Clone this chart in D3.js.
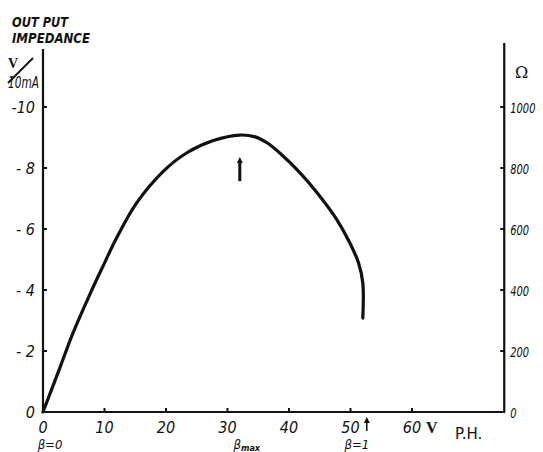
<!DOCTYPE html>
<html>
<head>
<meta charset="utf-8">
<script src="https://cdn.jsdelivr.net/npm/d3@7/dist/d3.min.js"></script>
<style>
  body { margin: 0; background: #fff; }
  svg { display: block; }
  text { fill: #111; }
</style>
</head>
<body>
<div class="chart"></div>
<script>
'use strict';

// plate voltage (V) and output impedance (V/10mA)
const voltage = [0, 2.8, 4.9, 7.6, 9.8, 12.0, 15.2, 19.6, 23.4, 27.7, 32.0, 34.5, 36.5, 38.5, 41.8, 44.6, 47.8, 49.9, 51.3, 52.0, 52.0];
const impedance = [0, 1.48, 2.6, 3.85, 4.8, 5.72, 6.85, 7.9, 8.5, 8.9, 9.08, 9.02, 8.82, 8.49, 7.84, 7.18, 6.3, 5.54, 4.89, 4.23, 3.08];

const xTicks = [0, 10, 20, 30, 40, 50, 60];
const leftTicks = [0, 2, 4, 6, 8, 10];
const leftLabels = ['0', '- 2', '- 4', '- 6', '- 8', '-10'];
const rightTicks = [0, 200, 400, 600, 800, 1000];

// beta markers: [voltage, label]
const betaMarks = [[0, 'β=0'], [32, 'βmax'], [52, 'β=1']];

const W = 543;
const H = 452;
const HAND = "'DejaVu Sans Condensed', 'DejaVu Sans', sans-serif";

const x = d3.scaleLinear().domain([0, 60]).range([43, 412]);
const y = d3.scaleLinear().domain([0, 10]).range([412, 107]);
const yR = d3.scaleLinear().domain([0, 1000]).range([412, 107]);

const svg = d3.select('.chart')
  .append('svg')
    .attr('width', W)
    .attr('height', H);

// italic hand-lettered style text helper
function label(xp, yp, size, str, anchor) {
  return svg.append('text')
    .attr('x', xp)
    .attr('y', yp)
    .attr('text-anchor', anchor || 'start')
    .style('font-family', HAND)
    .style('font-style', 'italic')
    .style('font-size', size + 'px')
    .text(str);
}

const x0 = x(0);
const xR = x(75);
const y0 = y(0);

// axes frame
svg.append('path')
  .attr('d', `M${x0},${y(11.9)}V${y0}H${xR}V${y(12.1)}`)
  .attr('fill', 'none')
  .attr('stroke', '#111')
  .attr('stroke-width', 2.2);

// left ticks + labels
svg.selectAll('.ltick')
  .data(leftTicks.slice(1))
  .enter()
  .append('line')
    .attr('x1', x0).attr('x2', x0 + 4)
    .attr('y1', (d) => y(d)).attr('y2', (d) => y(d))
    .attr('stroke', '#111').attr('stroke-width', 2);

leftTicks.forEach((d, i) => label(35, y(d) + 6, 16, leftLabels[i], 'end'));

// right ticks + labels
svg.selectAll('.rtick')
  .data(rightTicks.slice(1))
  .enter()
  .append('line')
    .attr('x1', xR - 4).attr('x2', xR)
    .attr('y1', (d) => yR(d)).attr('y2', (d) => yR(d))
    .attr('stroke', '#111').attr('stroke-width', 2);

rightTicks.forEach((d) => label(xR + 6, yR(d) + 6, 14, d)
  .attr('textLength', String(d).length * 6.3)
  .attr('lengthAdjust', 'spacingAndGlyphs'));

svg.append('text')
  .attr('x', 515).attr('y', 78)
  .style('font-family', "'DejaVu Serif', serif")
  .style('font-size', '16px')
  .text('Ω');

// bottom ticks + labels
svg.selectAll('.xtick')
  .data(xTicks.slice(1))
  .enter()
  .append('line')
    .attr('x1', (d) => x(d)).attr('x2', (d) => x(d))
    .attr('y1', y0 - 4).attr('y2', y0)
    .attr('stroke', '#111').attr('stroke-width', 2);

xTicks.forEach((d) => label(x(d), 433, 16, d, 'middle'));

svg.append('text')
  .attr('x', 426).attr('y', 433)
  .style('font-family', "'Liberation Serif', serif")
  .style('font-weight', 'bold')
  .style('font-size', '16px')
  .text('V');

svg.append('text')
  .attr('x', 455).attr('y', 439)
  .style('font-family', "'DejaVu Sans', sans-serif")
  .style('font-size', '15px')
  .text('P.H.');

// beta labels under the axis
betaMarks.forEach(([v, str]) => {
  const dx = v === 0 ? 7 : v === 32 ? 7 : -6;
  if (str === 'βmax') {
    const t = label(x(v) + dx, 449, 13, '', 'middle');
    t.append('tspan').text('β');
    t.append('tspan').style('font-size', '9px').style('font-weight', 'bold').attr('dy', 2).text('max');
  } else {
    label(x(v) + dx, 449, 13, str, 'middle');
  }
});

// arrows: one at beta=1 under the axis, one at the peak
function arrow(xp, yBottom, yTop, w) {
  svg.append('line')
    .attr('x1', xp).attr('x2', xp)
    .attr('y1', yBottom).attr('y2', yTop + 4)
    .attr('stroke', '#111').attr('stroke-width', w);
  svg.append('path')
    .attr('d', `M${xp - 3},${yTop + 6}L${xp},${yTop}L${xp + 3},${yTop + 6}Z`)
    .attr('fill', '#111');
}
arrow(x(52) + 4, 431, 417, 1.5);
arrow(x(32), y(7.57), y(8.36), 3);

// title
label(12, 27, 14, 'OUT PUT').style('font-weight', 'bold')
  .attr('textLength', 56).attr('lengthAdjust', 'spacingAndGlyphs');
label(12, 43, 14, 'IMPEDANCE').style('font-weight', 'bold')
  .attr('textLength', 78).attr('lengthAdjust', 'spacingAndGlyphs');

// unit V / 10mA
svg.append('text')
  .attr('x', 8).attr('y', 68)
  .style('font-family', "'Liberation Serif', serif")
  .style('font-weight', 'bold')
  .style('font-size', '14px')
  .text('V');
svg.append('line')
  .attr('x1', 8).attr('y1', 83).attr('x2', 33).attr('y2', 58)
  .attr('stroke', '#111').attr('stroke-width', 2);
label(8, 88, 15, '10mA')
  .attr('textLength', 31).attr('lengthAdjust', 'spacingAndGlyphs');

// impedance curve
const pts = voltage.map((v, i) => [v, impedance[i]]);
const line = d3.line()
  .x((d) => x(d[0]))
  .y((d) => y(d[1]))
  .curve(d3.curveCatmullRom.alpha(0.5));

svg.append('path')
  .datum(pts)
  .attr('d', line)
  .attr('fill', 'none')
  .attr('stroke', '#111')
  .attr('stroke-width', 3.2)
  .attr('stroke-linecap', 'round')
  .attr('stroke-linejoin', 'round');
</script>
</body>
</html>
